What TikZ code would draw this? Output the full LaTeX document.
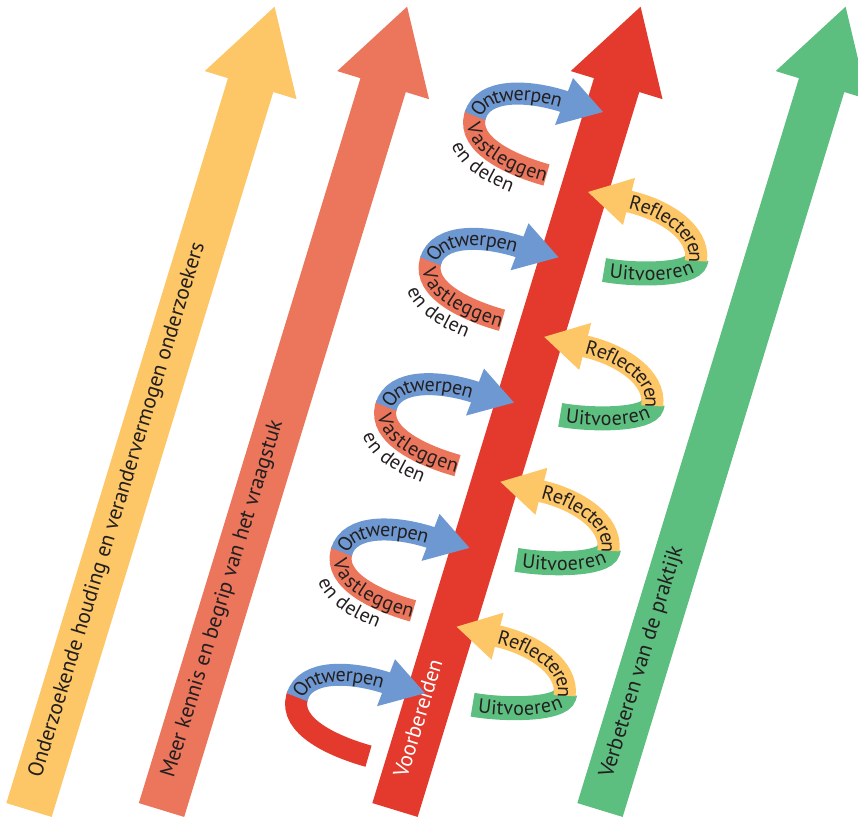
\documentclass[tikz,border=0pt]{standalone}
\usepackage{fontspec}
\setmainfont{PT Sans}
\usetikzlibrary{decorations.text}

\definecolor{geel}{HTML}{FDC666}
\definecolor{zalm}{HTML}{EB765B}
\definecolor{rood}{HTML}{E33A2D}
\definecolor{groen}{HTML}{5CBE7F}
\definecolor{blauw}{HTML}{6E98D1}
\definecolor{inkt}{HTML}{231F20}

\newcommand{\padfont}{\fontsize{20}{20}\selectfont\color{inkt}}

\tikzset{
  band/.style={line width=22pt},
  pijltekst/.style={rotate=73, anchor=mid west, inner sep=0pt, font=\fontsize{21.5}{21.5}\selectfont, text=inkt},
  padtekst/.style n args={3}{decorate, decoration={text along path, raise=#1, text align={left indent=#2}, text={|\padfont|#3}}},
}

% grote pijl: x-positie onderaan, kleur
\newcommand{\grotepijl}[2]{%
  \fill[#2, shift={(#1,7)}, rotate=73] (0,-23.7) -- (758,-23.7) -- (758,-48) -- (840,0)
    -- (758,48) -- (758,23.7) -- (0,23.7) -- cycle;}

% ontwerp-lus: punt van de pijl, kleur onderste band
\newcommand{\ontwerplus}[2]{%
  \begin{scope}[shift={#1}]
    \draw[band, draw=#2] (-127,-1) -- (-128,-4) .. controls (-136,-33) and (-92,-53) .. (-56.5,-63);
    \draw[band, draw=blauw] (-128,-4) .. controls (-120,24) and (-75,22) .. (-39,10.5) -- (-34,9);
    \fill[blauw] (-30,34) -- (0,0) -- (-48,-13) -- cycle;
  \end{scope}}

% reflectie-lus: punt van de pijl
\newcommand{\reflectielus}[1]{%
  \begin{scope}[shift={#1}]
    \draw[band, draw=groen, line width=24pt] (108.8,-66) -- (108,-69) .. controls (104,-83) and (50,-84) .. (16,-78);
    \draw[band, draw=geel] (36,-8.3) -- (41,-9.5) .. controls (76,-17.5) and (112,-40) .. (108,-69);
    \fill[geel] (47,14) -- (0,0) -- (35,-33) -- cycle;
    \path[padtekst={-7pt}{1pt}{Reflecteren}] (41,-9.5) .. controls (76,-17.5) and (112,-40) .. (108,-69)
      .. controls (104,-83) and (50,-84) .. (16,-78);
    \path[padtekst={-7pt}{6pt}{Uitvoeren}] (16,-78) .. controls (50,-84) and (104,-83) .. (108,-69)
      .. controls (112,-40) and (76,-17.5) .. (41,-9.5);
  \end{scope}}

% teksten bij de ontwerp-lus
\newcommand{\ontwerptekst}[1]{%
  \begin{scope}[shift={#1}]
    \path[padtekst={-7pt}{2pt}{Ontwerpen}] (-128,-4) .. controls (-120,24) and (-75,22) .. (-39,10.5) -- (0,0);
    \path[padtekst={-7pt}{7pt}{Vastleggen}] (-128,-4) .. controls (-136,-33) and (-92,-53) .. (-56.5,-63) -- ++(30,-9);
    \path[padtekst={-5pt}{1pt}{en delen}] (-147,-30) .. controls (-141,-52) and (-115,-68) .. (-72,-82) -- ++(20,-6);
  \end{scope}}

\begin{document}
\begin{tikzpicture}[x=1pt, y=1pt]
  \useasboundingbox (0,0) rectangle (858,817);
  \clip (0,0) rectangle (858,817);

  \grotepijl{29}{geel}
  \grotepijl{161.5}{zalm}
  \grotepijl{395}{rood}
  \grotepijl{600}{groen}

  \node[pijltekst] (houding) at ([shift={(73:33)}]29,7) {Onderzoekende houding en verandervermogen onderzoekers};
  \node[pijltekst] (kennis) at ([shift={(73:33)}]161.5,7) {Meer kennis en begrip van het vraagstuk};
  \node[pijltekst, text=white] (voorbereiden) at ([shift={(73:33)}]395,7) {Voorbereiden};
  \node[pijltekst] (praktijk) at ([shift={(73:33)}]600,7) {Verbeteren van de praktijk};

  \ontwerplus{(603,705)}{zalm}
  \ontwerplus{(558.5,559.7)}{zalm}
  \ontwerplus{(514,414.4)}{zalm}
  \ontwerplus{(469.5,269.1)}{zalm}
  \ontwerplus{(425,123.8)}{rood}

  \ontwerptekst{(603,705)}
  \ontwerptekst{(558.5,559.7)}
  \ontwerptekst{(514,414.4)}
  \ontwerptekst{(469.5,269.1)}
  \path[padtekst={-7pt}{2pt}{Ontwerpen}, shift={(425,123.8)}] (-128,-4) .. controls (-120,24) and (-75,22) .. (-39,10.5) -- (0,0);

  \reflectielus{(588,625)}
  \reflectielus{(544.2,480.1)}
  \reflectielus{(500.4,335.2)}
  \reflectielus{(456.6,190.3)}
\end{tikzpicture}
\end{document}
